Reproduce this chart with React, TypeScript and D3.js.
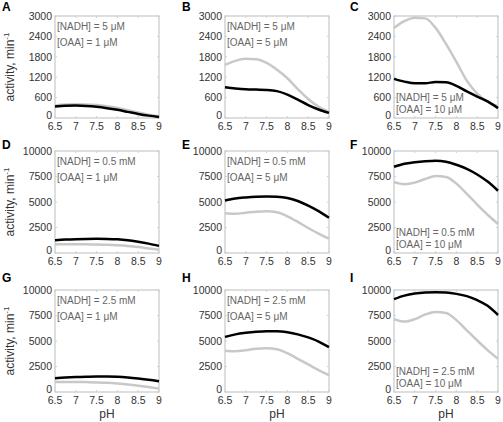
import React from 'react';
import * as d3 from 'd3';

const pH = [6.5, 6.75, 7, 7.25, 7.5, 7.75, 8, 8.25, 8.5, 8.75, 9];
const xTicks = [6.5, 7, 7.5, 8, 8.5, 9];
const yTicksLow = [0, 600, 1200, 1800, 2400, 3000];
const yTicksHigh = [0, 2500, 5000, 7500, 10000];
const panelLetters = ['A', 'B', 'C', 'D', 'E', 'F', 'G', 'H', 'I'];
const nadhLabels = ['[NADH] = 5 \u03bcM', '[NADH] = 0.5 mM', '[NADH] = 2.5 mM'];
const oaaLabels = ['[OAA] = 1 \u03bcM', '[OAA] = 5 \u03bcM', '[OAA] = 10 \u03bcM'];

// black curves
const blackA = [340, 360, 365, 355, 330, 290, 240, 180, 120, 70, 30];
const blackB = [905, 870, 845, 835, 825, 790, 690, 540, 380, 250, 150];
const blackC = [1150, 1070, 1020, 1020, 1060, 1050, 945, 780, 630, 490, 290];
const blackD = [1250, 1320, 1360, 1380, 1390, 1380, 1340, 1250, 1100, 920, 700];
const blackE = [5150, 5350, 5450, 5520, 5550, 5520, 5400, 5100, 4650, 4100, 3450];
const blackF = [8450, 8750, 8900, 9000, 9050, 8950, 8650, 8250, 7700, 7000, 6100];
const blackG = [1350, 1420, 1470, 1500, 1520, 1520, 1490, 1420, 1320, 1200, 1050];
const blackH = [5400, 5650, 5800, 5900, 5950, 5950, 5850, 5650, 5350, 4950, 4400];
const blackI = [9100, 9450, 9650, 9750, 9780, 9750, 9620, 9400, 9000, 8450, 7550];
// gray curves
const grayA = [370, 395, 405, 400, 380, 345, 295, 230, 160, 95, 50];
const grayB = [1560, 1680, 1740, 1730, 1620, 1420, 1170, 850, 560, 330, 180];
const grayC = [2650, 2850, 2950, 2930, 2650, 2180, 1650, 1100, 720, 480, 340];
const grayD = [850, 860, 860, 850, 830, 800, 750, 680, 580, 450, 320];
const grayE = [3900, 3850, 3950, 4050, 4100, 4000, 3600, 3050, 2450, 1900, 1400];
const grayF = [6950, 6750, 6900, 7250, 7550, 7450, 6800, 5800, 4750, 3750, 2850];
const grayG = [980, 990, 990, 970, 940, 900, 830, 740, 620, 480, 330];
const grayH = [4050, 4000, 4100, 4250, 4300, 4200, 3800, 3250, 2700, 2150, 1650];
const grayI = [7150, 6900, 7150, 7600, 7850, 7750, 7050, 6050, 5050, 4100, 3250];

const blacks = [blackA, blackB, blackC, blackD, blackE, blackF, blackG, blackH, blackI];
const grays = [grayA, grayB, grayC, grayD, grayE, grayF, grayG, grayH, grayI];

const colLeft = [55, 225, 394];
const rowTop = [16, 151, 290];
const plotW = 104;
const plotH = 102;
const letterX = [2, 182, 350];
const letterY = [11, 149, 282];

const FONT = "'Liberation Sans', Arial, Helvetica, sans-serif";

function Panel({ idx }: { idx: number }) {
  const r = Math.floor(idx / 3);
  const c = idx % 3;
  const left = colLeft[c];
  const top = rowTop[r];
  const yTicks = r === 0 ? yTicksLow : yTicksHigh;
  const yMax = yTicks[yTicks.length - 1];
  const x = d3.scaleLinear().domain([6.5, 9]).range([left, left + plotW]);
  const y = d3.scaleLinear().domain([0, yMax]).range([top + plotH, top]);
  const line = d3
    .line<number>()
    .x((_, i) => x(pH[i]))
    .y((d) => y(d))
    .curve(d3.curveMonotoneX);
  const annotTop = c < 2;
  const ay1 = annotTop ? top + 14 : top + plotH - 17;
  const ay2 = annotTop ? top + 30 : top + plotH - 5;
  return (
    <g>
      <text x={letterX[c]} y={letterY[r]} fontFamily={FONT} fontWeight="bold" fontSize={12} fill="#000">
        {panelLetters[idx]}
      </text>
      <rect x={left} y={top} width={plotW} height={plotH} fill="#fff" stroke="#bdbdbd" strokeWidth={1} />
      {xTicks.map((t) => (
        <g key={'xt' + t}>
          <line x1={x(t)} x2={x(t)} y1={top + plotH} y2={top + plotH - 2} stroke="#d0d0d0" />
          <line x1={x(t)} x2={x(t)} y1={top} y2={top + 2} stroke="#d0d0d0" />
          <text x={x(t)} y={top + plotH + 12} textAnchor="middle" fontFamily={FONT} fontSize={10.5} fill="#333">
            {t}
          </text>
        </g>
      ))}
      {yTicks.map((t) => (
        <g key={'yt' + t}>
          <line x1={left} x2={left + 2} y1={y(t)} y2={y(t)} stroke="#d0d0d0" />
          <line x1={left + plotW} x2={left + plotW - 2} y1={y(t)} y2={y(t)} stroke="#d0d0d0" />
          <text
            x={left - 3}
            y={t === 0 ? y(t) + 1 : y(t)}
            dy={t === 0 ? 0 : '0.36em'}
            textAnchor="end"
            fontFamily={FONT}
            fontSize={10.5}
            fill="#333"
          >
            {t}
          </text>
        </g>
      ))}
      <path d={line(grays[idx]) || ''} fill="none" stroke="#c8c8c8" strokeWidth={2.5} />
      <path d={line(blacks[idx]) || ''} fill="none" stroke="#000" strokeWidth={2.5} />
      <text x={left + 2} y={ay1} fontFamily={FONT} fontSize={10} fill="#666">
        {nadhLabels[r]}
      </text>
      <text x={left + 2} y={ay2} fontFamily={FONT} fontSize={10} fill="#666">
        {oaaLabels[c]}
      </text>
      {c === 0 && (
        <text
          transform={`translate(14,${top + plotH / 2}) rotate(-90)`}
          textAnchor="middle"
          fontFamily={FONT}
          fontSize={12}
          fill="#333"
        >
          activity, min
          <tspan dy={-5} fontSize={8}>-1</tspan>
        </text>
      )}
      {r === 2 && (
        <text x={left + plotW / 2} y={418} textAnchor="middle" fontFamily={FONT} fontSize={12} fill="#333">
          pH
        </text>
      )}
    </g>
  );
}

export default function App() {
  return (
    <svg width={503} height={422} style={{ position: 'absolute', left: 0, top: 0, background: '#fff' }}>
      <rect x={0} y={0} width={503} height={422} fill="#fff" />
      {panelLetters.map((_, i) => (
        <Panel key={i} idx={i} />
      ))}
    </svg>
  );
}
